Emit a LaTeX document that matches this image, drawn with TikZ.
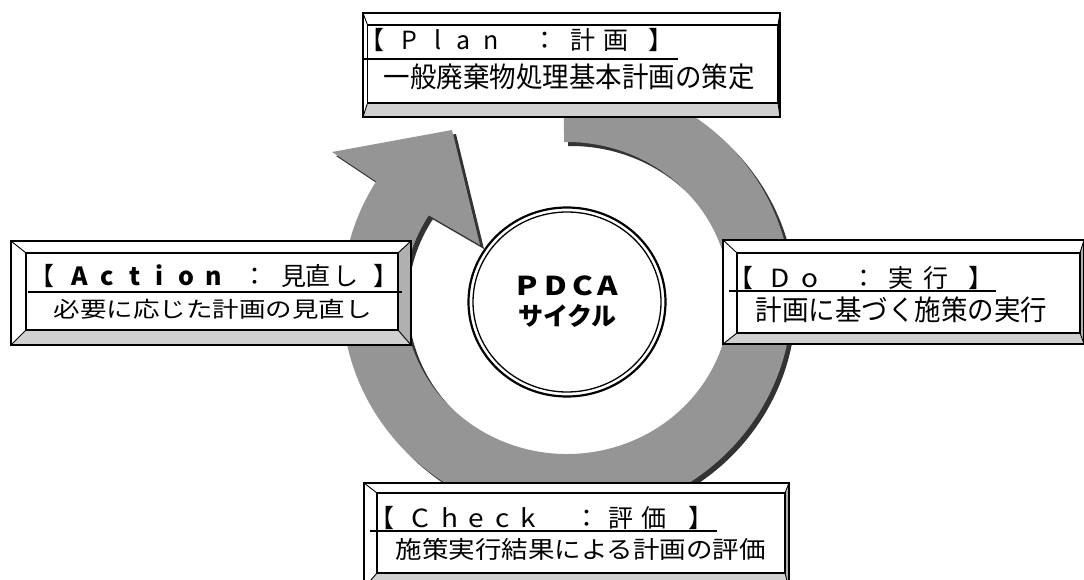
\documentclass[tikz,border=0pt]{standalone}
\usepackage{fontspec}
\setmainfont{Noto Sans CJK JP}
\usetikzlibrary{calc,shapes.geometric}
\definecolor{ringgray}{HTML}{959595}
\definecolor{ringshadow}{HTML}{333333}
\definecolor{bevright}{HTML}{B0B0B0}
\definecolor{bevbottom}{HTML}{D0D0D0}
\newcommand\pc[2]{\makebox[0pt][l]{\hspace*{#1pt}#2}}
\newcommand\bevbox[9]{%
  \coordinate (#1-onw) at (#2,-#3);
  \coordinate (#1-one) at (#4,-#3);
  \coordinate (#1-ose) at (#4,-#5);
  \coordinate (#1-osw) at (#2,-#5);
  \coordinate (#1-inw) at (#6,-#7);
  \coordinate (#1-ine) at (#8,-#7);
  \coordinate (#1-ise) at (#8,-#9);
  \coordinate (#1-isw) at (#6,-#9);
  \fill[white] (#1-onw) rectangle (#1-ose);
  \fill[bevright] (#1-one) -- (#1-ose) -- (#1-ise) -- (#1-ine) -- cycle;
  \fill[bevbottom] (#1-osw) -- (#1-ose) -- (#1-ise) -- (#1-isw) -- cycle;
  \draw[bevedge] (#1-onw) -- (#1-inw) (#1-one) -- (#1-ine)
                 (#1-ose) -- (#1-ise) (#1-osw) -- (#1-isw);
  \draw[boxline] (#1-onw) rectangle (#1-ose);
  \draw[boxline] (#1-inw) rectangle (#1-ise);
}
\newcommand\ringpath{%
  ($(C)+(91:225pt and 220pt)$) arc[start angle=91,end angle=-212,x radius=225pt,y radius=220pt]
  -- (barbL) -- (tip) -- (barbR)
  -- ($(C)+(-212:163pt and 156pt)$) arc[start angle=-212,end angle=91,x radius=163pt,y radius=156pt]
  -- cycle}
\begin{document}
\begin{tikzpicture}[x=1pt,y=1pt,
  boxline/.style={line width=1.5pt,black},
  bevedge/.style={line width=0.9pt,black},
  uline/.style={line width=1.5pt,black},
  htext/.style={inner sep=0pt,anchor=base west,font=\fontsize{25}{30}\selectfont},
  btext/.style={inner sep=0pt,anchor=base west,font=\fontsize{26.5}{30}\selectfont},
  ringfill/.style={fill=ringgray},
  ringshade/.style={fill=ringshadow}]
\useasboundingbox (0,0) rectangle (1084,-580);
\clip (0,0) rectangle (1084,-580);
\fill[white] (0,0) rectangle (1084,-580);

% cycle arrow
\coordinate (C) at (567,-298);
\coordinate (barbL) at (332,-152);
\coordinate (tip) at (452,-130);
\coordinate (barbR) at (480,-245);
\begin{scope}[transform canvas={shift={(4pt,-4pt)}}]
  \fill[ringshade] \ringpath;
\end{scope}
\fill[ringfill] \ringpath;

% centre circle
\node[ellipse,draw,line width=2.2pt,fill=white,inner sep=0pt,
      minimum width=197pt,minimum height=189pt] (pdca-outer) at (567,-302) {};
\node[ellipse,draw,line width=1.3pt,inner sep=0pt,
      minimum width=188pt,minimum height=180pt] (pdca-inner) at (567,-302) {};
\node[inner sep=0pt,anchor=base west,font=\bfseries\fontsize{26}{30}\selectfont] (pdca-t1)
  at (516,-295) {\pc{0}{\scalebox{1.2}[1]{P}}\pc{28.5}{\scalebox{1.2}[1]{D}}\pc{56}{\scalebox{1.2}[1]{C}}\pc{81}{\scalebox{1.2}[1]{A}}\hspace*{101pt}};
\node[inner sep=0pt,anchor=base,font=\bfseries\fontsize{25}{30}\selectfont] (pdca-t2)
  at (567.5,-325) {サイクル};

% Plan
\bevbox{plan}{363}{13}{780}{117}{367.5}{25}{778}{103}
\node[htext] (plan-head) at (359,-50)
  {\pc{0}{【}\pc{42.5}{P}\pc{75}{l}\pc{97}{a}\pc{124.5}{n}\pc{173}{：}\pc{211.5}{計}\pc{244.5}{画}\pc{289.5}{】}\hspace*{315pt}};
\draw[uline] (363,-59) -- (678,-59);
\node[btext] (plan-body) at (383.5,-88) {\scalebox{1}[1.06]{一般廃棄物処理基本計画の策定}};

% Action
\bevbox{act}{11}{241}{411}{345}{26}{253}{398}{330}
\node[htext] (act-head) at (29,-285)
  {\pc{0}{【}\pc{42}{\textbf{A}}\pc{71.5}{\textbf{c}}\pc{100}{\textbf{t}}\pc{126}{\textbf{i}}\pc{149.5}{\textbf{o}}\pc{176.5}{\textbf{n}}\pc{213}{：}\pc{252.5}{見}\pc{276}{直}\pc{304}{し}\pc{344.5}{】}\hspace*{370pt}};
\draw[uline] (28,-292) -- (402,-292);
\node[btext] (act-body) at (53.5,-317) {\scalebox{1}[0.82]{必要に応じた計画の見直し}};

% Do
\bevbox{do}{723}{240}{1084}{344}{737}{253}{1080}{333}
\node[htext] (do-head) at (728,-287)
  {\pc{0}{【}\pc{42}{\scalebox{1.12}[1]{D}}\pc{73.5}{\scalebox{1.12}[1]{o}}\pc{123}{：}\pc{160.5}{実}\pc{195.5}{行}\pc{240.5}{】}\hspace*{266pt}};
\draw[uline] (729,-291) -- (996,-291);
\node[btext] (do-body) at (755.5,-320) {\scalebox{1}[1.06]{計画に基づく施策の実行}};

% Check
\bevbox{chk}{364}{483}{789}{588}{377}{493}{785}{573}
\node[htext] (chk-head) at (369,-527)
  {\pc{0}{【}\pc{42.5}{\scalebox{1.12}[1]{C}}\pc{72}{\scalebox{1.12}[1]{h}}\pc{99.5}{\scalebox{1.12}[1]{e}}\pc{126.5}{\scalebox{1.12}[1]{c}}\pc{151}{\scalebox{1.12}[1]{k}}\pc{205}{：}\pc{239.5}{評}\pc{272.5}{価}\pc{319.5}{】}\hspace*{345pt}};
\draw[uline] (370,-531) -- (717,-531);
\node[btext] (chk-body) at (395.5,-558) {\scalebox{1}[0.9]{施策実行結果による計画の評価}};
\end{tikzpicture}
\end{document}
